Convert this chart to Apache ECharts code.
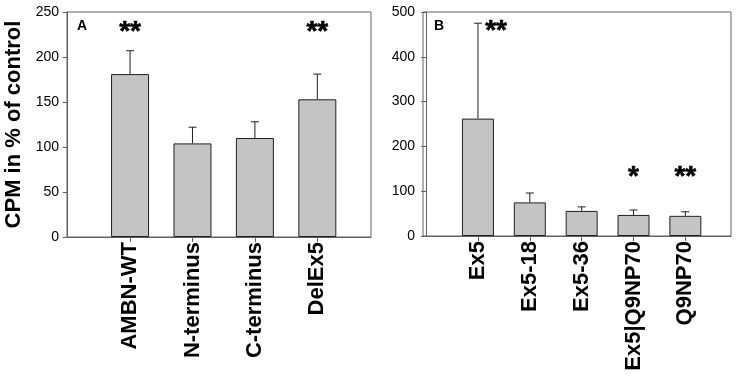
<!DOCTYPE html>
<html>
<head>
<meta charset="utf-8">
<script src="https://cdn.jsdelivr.net/npm/echarts@6/dist/echarts.min.js"></script>
<style>
  html, body { margin: 0; padding: 0; background: #fff; }
  #chart { width: 743px; height: 379px; }
</style>
</head>
<body>
<div id="chart"></div>
<script>
// panel A
const namesA = ['AMBN-WT', 'N-terminus', 'C-terminus', 'DelEx5'];
const meansA = [181, 104, 110, 153];
const errTopA = [207, 122, 128, 181];
const starsA = [['**', 1, 228], ['**', 4, 228]];
const ticksA = [0, 50, 100, 150, 200, 250];

// panel B
const namesB = ['Ex5', 'Ex5-18', 'Ex5-36', 'Ex5|Q9NP70', 'Q9NP70'];
const meansB = [262, 75, 56, 47, 45];
const errTopB = [475, 96, 65, 58, 54];
const starsB = [['**', 1.35, 456], ['*', 4, 131], ['**', 5, 131]];
const ticksB = [0, 100, 200, 300, 400, 500];

const FONT = 'Liberation Sans, Arial, sans-serif';
const FRAME = '#606060';

const chart = echarts.init(document.getElementById('chart'));

const pos = arr => arr.map((_, i) => i + 1);

function xAxis(idx, names, min, max) {
  return {
    type: 'value', gridIndex: idx, min: min, max: max,
    splitLine: { show: false },
    axisLine: { lineStyle: { color: FRAME, width: 1 } },
    axisTick: { customValues: pos(names), length: 5, lineStyle: { color: FRAME } },
    axisLabel: {
      customValues: pos(names), rotate: 90, margin: 5,
      fontFamily: FONT, fontSize: 22, fontWeight: 'bold', color: '#000',
      formatter: v => names[Math.round(v) - 1] || ''
    }
  };
}

function yAxis(idx, ticks, name) {
  return {
    type: 'value', gridIndex: idx,
    min: ticks[0], max: ticks[ticks.length - 1], interval: ticks[1] - ticks[0],
    name: name, nameLocation: 'middle', nameRotate: 90, nameGap: 42,
    nameTextStyle: { fontFamily: FONT, fontSize: 22, fontWeight: 'bold', color: '#000' },
    splitLine: { show: false },
    axisLine: { show: true, lineStyle: { color: FRAME, width: 1 } },
    axisTick: { show: true, length: 5, lineStyle: { color: FRAME } },
    axisLabel: { fontFamily: FONT, fontSize: 14, color: '#000', margin: 8 }
  };
}

function bars(idx, means, width) {
  return {
    type: 'bar', xAxisIndex: idx, yAxisIndex: idx,
    data: means.map((v, i) => [i + 1, v]),
    barWidth: width,
    itemStyle: { color: '#c4c4c4', borderColor: '#202020', borderWidth: 1 },
    silent: true
  };
}

function errBars(idx, means, tops) {
  return {
    type: 'custom', xAxisIndex: idx, yAxisIndex: idx,
    data: means.map((v, i) => [i + 1, v, tops[i]]),
    renderItem: (params, api) => {
      const lo = api.coord([api.value(0), api.value(1)]);
      const hi = api.coord([api.value(0), api.value(2)]);
      const style = { stroke: '#202020', lineWidth: 1 };
      return {
        type: 'group',
        children: [
          { type: 'line', shape: { x1: lo[0], y1: lo[1], x2: hi[0], y2: hi[1] }, style: style },
          { type: 'line', shape: { x1: hi[0] - 4, y1: hi[1], x2: hi[0] + 4, y2: hi[1] }, style: style }
        ]
      };
    },
    z: 3, silent: true
  };
}

function stars(idx, list) {
  return {
    type: 'custom', xAxisIndex: idx, yAxisIndex: idx,
    data: list.map(s => [s[1], s[2], s[0]]),
    renderItem: (params, api) => {
      const p = api.coord([api.value(0), api.value(1)]);
      return {
        type: 'text', x: p[0], y: p[1],
        style: {
          text: list[params.dataIndex][0], align: 'center', verticalAlign: 'middle',
          fontFamily: FONT, fontSize: 28, fontWeight: 'bold', fill: '#000',
          stroke: '#000', lineWidth: 0.6
        }
      };
    },
    z: 4, silent: true
  };
}

chart.setOption({
  animation: false,
  backgroundColor: '#fff',
  title: [
    { text: 'A', left: 72, top: 14, textStyle: { fontFamily: FONT, fontSize: 14, fontWeight: 'bold', color: '#000' } },
    { text: 'B', left: 429, top: 14, textStyle: { fontFamily: FONT, fontSize: 14, fontWeight: 'bold', color: '#000' } }
  ],
  grid: [
    { left: 67, top: 12, width: 304, height: 225, show: true, borderColor: FRAME, borderWidth: 1 },
    { left: 423, top: 12, width: 308, height: 224, show: true, borderColor: FRAME, borderWidth: 1 }
  ],
  xAxis: [xAxis(0, namesA, -0.01, 4.86), xAxis(1, namesB, -0.06, 5.88)],
  yAxis: [yAxis(0, ticksA, 'CPM in % of control'), yAxis(1, ticksB, '')],
  series: [
    bars(0, meansA, 38), errBars(0, meansA, errTopA), stars(0, starsA),
    bars(1, meansB, 32), errBars(1, meansB, errTopB), stars(1, starsB)
  ]
});
</script>
</body>
</html>
